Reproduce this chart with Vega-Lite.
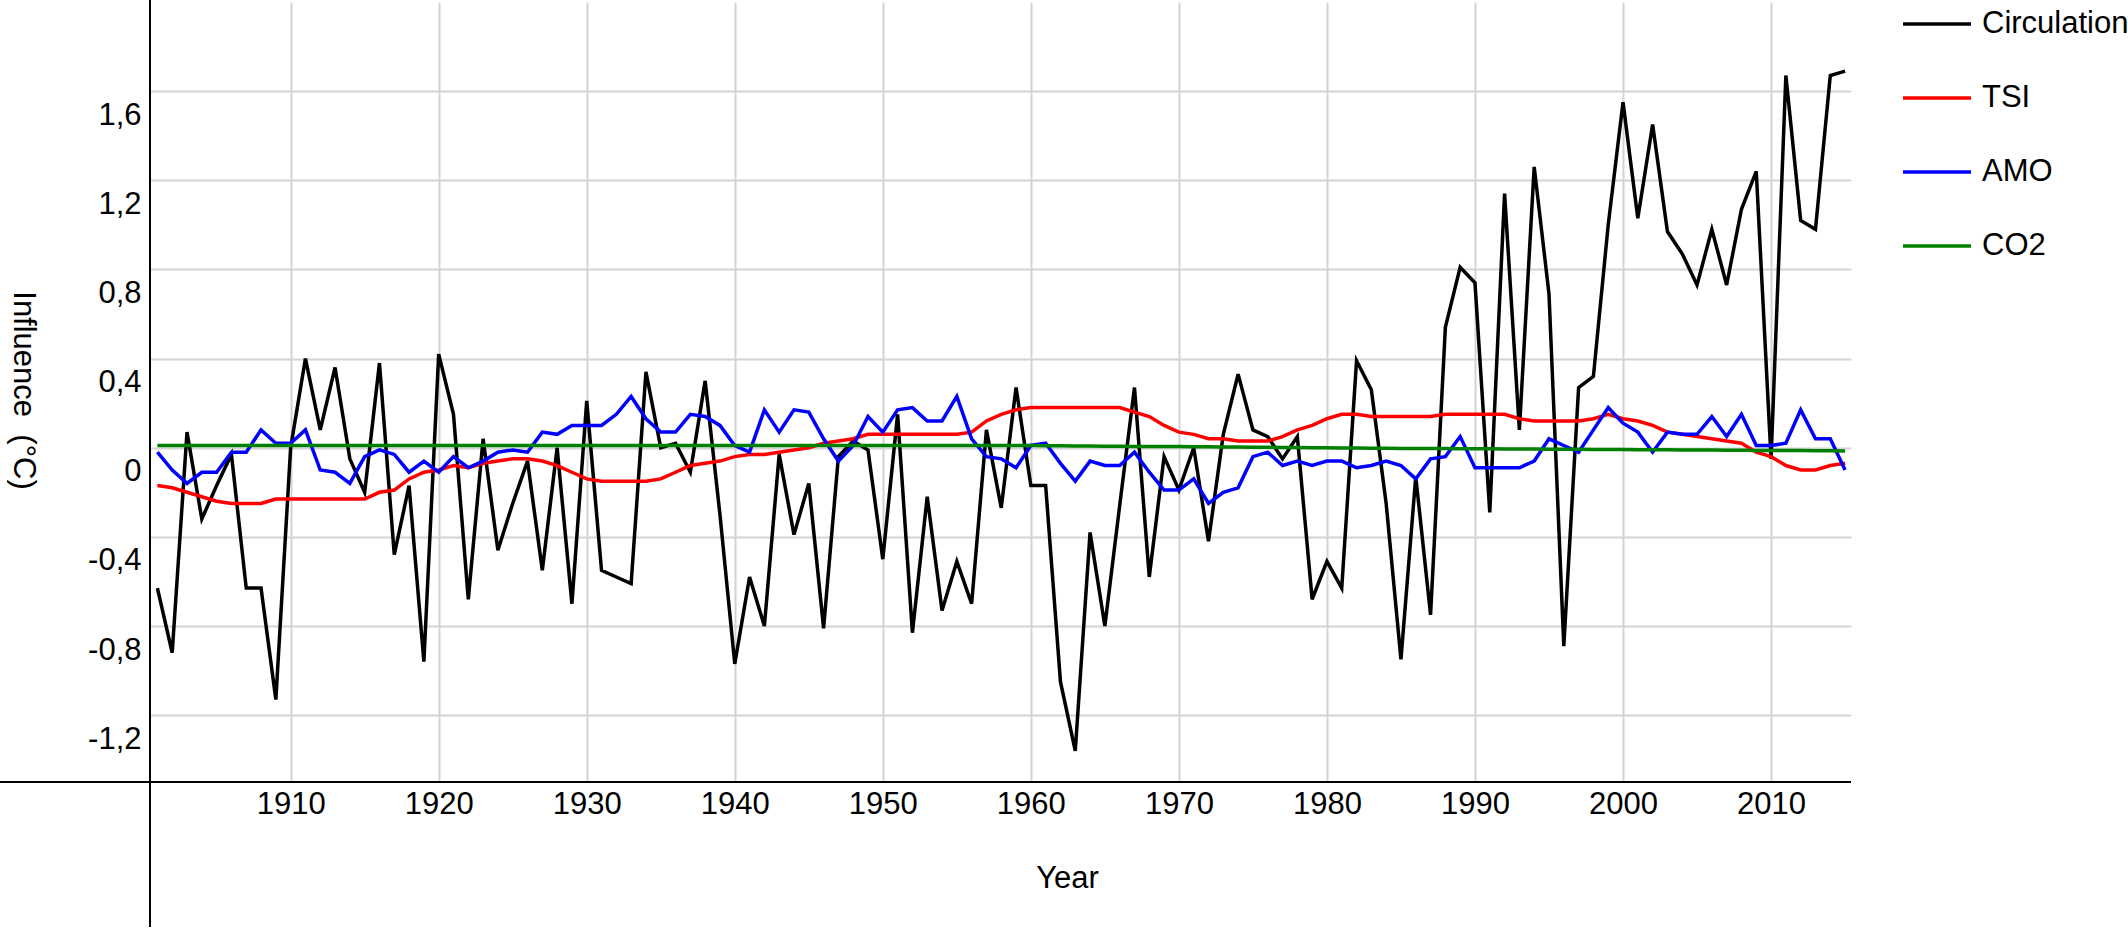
{
  "$schema": "https://vega.github.io/schema/vega-lite/v6.json",
  "width": 1701,
  "height": 780,
  "autosize": {"type": "none"},
  "padding": {"left": 150, "top": 2, "right": 277, "bottom": 148},
  "config": {"view": {"stroke": null}, "font": "Liberation Sans"},
  "data": {"values": [
    {"year":1901,"Circulation":-0.63,"TSI":-0.17,"AMO":-0.02,"CO2":0.01},
    {"year":1902,"Circulation":-0.92,"TSI":-0.18,"AMO":-0.10,"CO2":0.01},
    {"year":1903,"Circulation":0.07,"TSI":-0.20,"AMO":-0.16,"CO2":0.01},
    {"year":1904,"Circulation":-0.32,"TSI":-0.22,"AMO":-0.11,"CO2":0.01},
    {"year":1905,"Circulation":-0.17,"TSI":-0.24,"AMO":-0.11,"CO2":0.01},
    {"year":1906,"Circulation":-0.03,"TSI":-0.25,"AMO":-0.02,"CO2":0.01},
    {"year":1907,"Circulation":-0.63,"TSI":-0.25,"AMO":-0.02,"CO2":0.01},
    {"year":1908,"Circulation":-0.63,"TSI":-0.25,"AMO":0.08,"CO2":0.01},
    {"year":1909,"Circulation":-1.13,"TSI":-0.23,"AMO":0.02,"CO2":0.01},
    {"year":1910,"Circulation":0.0,"TSI":-0.23,"AMO":0.02,"CO2":0.01},
    {"year":1911,"Circulation":0.40,"TSI":-0.23,"AMO":0.08,"CO2":0.01},
    {"year":1912,"Circulation":0.08,"TSI":-0.23,"AMO":-0.10,"CO2":0.01},
    {"year":1913,"Circulation":0.36,"TSI":-0.23,"AMO":-0.11,"CO2":0.01},
    {"year":1914,"Circulation":-0.05,"TSI":-0.23,"AMO":-0.16,"CO2":0.01},
    {"year":1915,"Circulation":-0.20,"TSI":-0.23,"AMO":-0.04,"CO2":0.01},
    {"year":1916,"Circulation":0.38,"TSI":-0.20,"AMO":-0.01,"CO2":0.01},
    {"year":1917,"Circulation":-0.48,"TSI":-0.19,"AMO":-0.03,"CO2":0.01},
    {"year":1918,"Circulation":-0.17,"TSI":-0.14,"AMO":-0.11,"CO2":0.01},
    {"year":1919,"Circulation":-0.96,"TSI":-0.11,"AMO":-0.06,"CO2":0.01},
    {"year":1920,"Circulation":0.42,"TSI":-0.10,"AMO":-0.11,"CO2":0.01},
    {"year":1921,"Circulation":0.15,"TSI":-0.08,"AMO":-0.04,"CO2":0.01},
    {"year":1922,"Circulation":-0.68,"TSI":-0.09,"AMO":-0.09,"CO2":0.01},
    {"year":1923,"Circulation":0.04,"TSI":-0.07,"AMO":-0.06,"CO2":0.01},
    {"year":1924,"Circulation":-0.46,"TSI":-0.06,"AMO":-0.02,"CO2":0.01},
    {"year":1925,"Circulation":-0.25,"TSI":-0.05,"AMO":-0.01,"CO2":0.01},
    {"year":1926,"Circulation":-0.06,"TSI":-0.05,"AMO":-0.02,"CO2":0.01},
    {"year":1927,"Circulation":-0.55,"TSI":-0.06,"AMO":0.07,"CO2":0.01},
    {"year":1928,"Circulation":0.0,"TSI":-0.08,"AMO":0.06,"CO2":0.01},
    {"year":1929,"Circulation":-0.70,"TSI":-0.11,"AMO":0.10,"CO2":0.01},
    {"year":1930,"Circulation":0.21,"TSI":-0.14,"AMO":0.10,"CO2":0.01},
    {"year":1931,"Circulation":-0.55,"TSI":-0.15,"AMO":0.10,"CO2":0.01},
    {"year":1932,"Circulation":-0.58,"TSI":-0.15,"AMO":0.15,"CO2":0.01},
    {"year":1933,"Circulation":-0.61,"TSI":-0.15,"AMO":0.23,"CO2":0.01},
    {"year":1934,"Circulation":0.34,"TSI":-0.15,"AMO":0.13,"CO2":0.01},
    {"year":1935,"Circulation":0.0,"TSI":-0.14,"AMO":0.07,"CO2":0.01},
    {"year":1936,"Circulation":0.02,"TSI":-0.11,"AMO":0.07,"CO2":0.01},
    {"year":1937,"Circulation":-0.11,"TSI":-0.08,"AMO":0.15,"CO2":0.01},
    {"year":1938,"Circulation":0.30,"TSI":-0.07,"AMO":0.14,"CO2":0.01},
    {"year":1939,"Circulation":-0.30,"TSI":-0.06,"AMO":0.10,"CO2":0.01},
    {"year":1940,"Circulation":-0.97,"TSI":-0.04,"AMO":0.01,"CO2":0.01},
    {"year":1941,"Circulation":-0.58,"TSI":-0.03,"AMO":-0.02,"CO2":0.01},
    {"year":1942,"Circulation":-0.80,"TSI":-0.03,"AMO":0.17,"CO2":0.01},
    {"year":1943,"Circulation":-0.03,"TSI":-0.02,"AMO":0.07,"CO2":0.01},
    {"year":1944,"Circulation":-0.39,"TSI":-0.01,"AMO":0.17,"CO2":0.01},
    {"year":1945,"Circulation":-0.16,"TSI":0.0,"AMO":0.16,"CO2":0.01},
    {"year":1946,"Circulation":-0.81,"TSI":0.02,"AMO":0.04,"CO2":0.01},
    {"year":1947,"Circulation":-0.04,"TSI":0.03,"AMO":-0.06,"CO2":0.01},
    {"year":1948,"Circulation":0.03,"TSI":0.04,"AMO":0.01,"CO2":0.01},
    {"year":1949,"Circulation":-0.01,"TSI":0.06,"AMO":0.14,"CO2":0.01},
    {"year":1950,"Circulation":-0.50,"TSI":0.06,"AMO":0.07,"CO2":0.01},
    {"year":1951,"Circulation":0.15,"TSI":0.06,"AMO":0.17,"CO2":0.01},
    {"year":1952,"Circulation":-0.83,"TSI":0.06,"AMO":0.18,"CO2":0.01},
    {"year":1953,"Circulation":-0.22,"TSI":0.06,"AMO":0.12,"CO2":0.01},
    {"year":1954,"Circulation":-0.73,"TSI":0.06,"AMO":0.12,"CO2":0.01},
    {"year":1955,"Circulation":-0.51,"TSI":0.06,"AMO":0.23,"CO2":0.01},
    {"year":1956,"Circulation":-0.70,"TSI":0.07,"AMO":0.04,"CO2":0.01},
    {"year":1957,"Circulation":0.08,"TSI":0.12,"AMO":-0.04,"CO2":0.01},
    {"year":1958,"Circulation":-0.27,"TSI":0.15,"AMO":-0.05,"CO2":0.01},
    {"year":1959,"Circulation":0.27,"TSI":0.17,"AMO":-0.09,"CO2":0.01},
    {"year":1960,"Circulation":-0.17,"TSI":0.18,"AMO":0.01,"CO2":0.01},
    {"year":1961,"Circulation":-0.17,"TSI":0.18,"AMO":0.02,"CO2":0.009},
    {"year":1962,"Circulation":-1.05,"TSI":0.18,"AMO":-0.07,"CO2":0.009},
    {"year":1963,"Circulation":-1.36,"TSI":0.18,"AMO":-0.15,"CO2":0.008},
    {"year":1964,"Circulation":-0.38,"TSI":0.18,"AMO":-0.06,"CO2":0.008},
    {"year":1965,"Circulation":-0.80,"TSI":0.18,"AMO":-0.08,"CO2":0.007},
    {"year":1966,"Circulation":-0.26,"TSI":0.18,"AMO":-0.08,"CO2":0.007},
    {"year":1967,"Circulation":0.27,"TSI":0.16,"AMO":-0.02,"CO2":0.006},
    {"year":1968,"Circulation":-0.58,"TSI":0.14,"AMO":-0.11,"CO2":0.006},
    {"year":1969,"Circulation":-0.04,"TSI":0.10,"AMO":-0.19,"CO2":0.005},
    {"year":1970,"Circulation":-0.19,"TSI":0.07,"AMO":-0.19,"CO2":0.005},
    {"year":1971,"Circulation":0.0,"TSI":0.06,"AMO":-0.14,"CO2":0.004},
    {"year":1972,"Circulation":-0.42,"TSI":0.04,"AMO":-0.25,"CO2":0.004},
    {"year":1973,"Circulation":0.06,"TSI":0.04,"AMO":-0.20,"CO2":0.003},
    {"year":1974,"Circulation":0.33,"TSI":0.03,"AMO":-0.18,"CO2":0.003},
    {"year":1975,"Circulation":0.08,"TSI":0.03,"AMO":-0.04,"CO2":0.002},
    {"year":1976,"Circulation":0.05,"TSI":0.03,"AMO":-0.02,"CO2":0.002},
    {"year":1977,"Circulation":-0.05,"TSI":0.05,"AMO":-0.08,"CO2":0.001},
    {"year":1978,"Circulation":0.05,"TSI":0.08,"AMO":-0.06,"CO2":0.001},
    {"year":1979,"Circulation":-0.68,"TSI":0.10,"AMO":-0.08,"CO2":0.0},
    {"year":1980,"Circulation":-0.51,"TSI":0.13,"AMO":-0.06,"CO2":0.0},
    {"year":1981,"Circulation":-0.63,"TSI":0.15,"AMO":-0.06,"CO2":-0.001},
    {"year":1982,"Circulation":0.39,"TSI":0.15,"AMO":-0.09,"CO2":-0.001},
    {"year":1983,"Circulation":0.26,"TSI":0.14,"AMO":-0.08,"CO2":-0.002},
    {"year":1984,"Circulation":-0.25,"TSI":0.14,"AMO":-0.06,"CO2":-0.002},
    {"year":1985,"Circulation":-0.95,"TSI":0.14,"AMO":-0.08,"CO2":-0.003},
    {"year":1986,"Circulation":-0.13,"TSI":0.14,"AMO":-0.14,"CO2":-0.003},
    {"year":1987,"Circulation":-0.75,"TSI":0.14,"AMO":-0.05,"CO2":-0.004},
    {"year":1988,"Circulation":0.54,"TSI":0.15,"AMO":-0.04,"CO2":-0.004},
    {"year":1989,"Circulation":0.81,"TSI":0.15,"AMO":0.05,"CO2":-0.005},
    {"year":1990,"Circulation":0.74,"TSI":0.15,"AMO":-0.09,"CO2":-0.005},
    {"year":1991,"Circulation":-0.29,"TSI":0.15,"AMO":-0.09,"CO2":-0.005},
    {"year":1992,"Circulation":1.14,"TSI":0.15,"AMO":-0.09,"CO2":-0.006},
    {"year":1993,"Circulation":0.08,"TSI":0.13,"AMO":-0.09,"CO2":-0.006},
    {"year":1994,"Circulation":1.26,"TSI":0.12,"AMO":-0.06,"CO2":-0.006},
    {"year":1995,"Circulation":0.69,"TSI":0.12,"AMO":0.04,"CO2":-0.007},
    {"year":1996,"Circulation":-0.89,"TSI":0.12,"AMO":0.01,"CO2":-0.007},
    {"year":1997,"Circulation":0.27,"TSI":0.12,"AMO":-0.02,"CO2":-0.007},
    {"year":1998,"Circulation":0.32,"TSI":0.13,"AMO":0.08,"CO2":-0.008},
    {"year":1999,"Circulation":1.0,"TSI":0.15,"AMO":0.18,"CO2":-0.008},
    {"year":2000,"Circulation":1.55,"TSI":0.13,"AMO":0.11,"CO2":-0.008},
    {"year":2001,"Circulation":1.03,"TSI":0.12,"AMO":0.07,"CO2":-0.009},
    {"year":2002,"Circulation":1.45,"TSI":0.10,"AMO":-0.02,"CO2":-0.009},
    {"year":2003,"Circulation":0.97,"TSI":0.07,"AMO":0.07,"CO2":-0.009},
    {"year":2004,"Circulation":0.87,"TSI":0.06,"AMO":0.06,"CO2":-0.010},
    {"year":2005,"Circulation":0.73,"TSI":0.05,"AMO":0.06,"CO2":-0.010},
    {"year":2006,"Circulation":0.98,"TSI":0.04,"AMO":0.14,"CO2":-0.010},
    {"year":2007,"Circulation":0.73,"TSI":0.03,"AMO":0.05,"CO2":-0.011},
    {"year":2008,"Circulation":1.07,"TSI":0.02,"AMO":0.15,"CO2":-0.011},
    {"year":2009,"Circulation":1.24,"TSI":-0.02,"AMO":0.01,"CO2":-0.012},
    {"year":2010,"Circulation":-0.05,"TSI":-0.04,"AMO":0.01,"CO2":-0.012},
    {"year":2011,"Circulation":1.67,"TSI":-0.08,"AMO":0.02,"CO2":-0.013},
    {"year":2012,"Circulation":1.02,"TSI":-0.10,"AMO":0.17,"CO2":-0.013},
    {"year":2013,"Circulation":0.98,"TSI":-0.10,"AMO":0.04,"CO2":-0.014},
    {"year":2014,"Circulation":1.67,"TSI":-0.08,"AMO":0.04,"CO2":-0.014},
    {"year":2015,"Circulation":1.69,"TSI":-0.07,"AMO":-0.10,"CO2":-0.015}
  ]},
  "layer": [
    {
      "transform": [{"fold": ["Circulation", "TSI", "AMO", "CO2"], "as": ["series", "value"]}],
      "mark": {"type": "line", "strokeWidth": 3.5, "clip": false},
      "encoding": {
        "x": {
          "field": "year", "type": "quantitative",
          "scale": {"domain": [1900.5, 2015.4], "nice": false, "zero": false},
          "axis": {
            "values": [1910, 1920, 1930, 1940, 1950, 1960, 1970, 1980, 1990, 2000, 2010],
            "format": "d", "domain": false, "ticks": false, "grid": true,
            "gridColor": "#d3d3d3", "gridWidth": 2,
            "labelFontSize": 31, "labelColor": "#000", "labelBaseline": "alphabetic",
            "labelPadding": 31, "labelFlush": false, "labelOverlap": false,
            "title": "Year", "titleFontSize": 31, "titleFontWeight": "normal", "titleColor": "#000",
            "titleX": 917, "titleY": 105, "titleBaseline": "alphabetic", "titleAlign": "center"
          }
        },
        "y": {
          "field": "value", "type": "quantitative",
          "scale": {"domain": [-1.5, 2.0], "nice": false, "zero": false},
          "axis": {
            "values": [-1.2, -0.8, -0.4, 0, 0.4, 0.8, 1.2, 1.6],
            "labelExpr": "datum.value == 0 ? '0' : (datum.value < 0 ? '-' : '') + replace(format(abs(datum.value), '.1f'), '.', ',')",
            "domain": false, "ticks": false, "grid": true,
            "gridColor": "#d3d3d3", "gridWidth": 2,
            "labelFontSize": 31, "labelColor": "#000", "labelBaseline": "alphabetic",
            "labelOffset": 33, "labelPadding": 9, "labelFlush": false, "labelOverlap": false,
            "title": "Influence\u00a0 (°C)", "titleFontSize": 31, "titleFontWeight": "normal", "titleColor": "#000",
            "titleAngle": 90, "titleX": -128, "titleY": 388, "titleBaseline": "middle", "titleAlign": "center"
          }
        },
        "color": {
          "field": "series", "type": "nominal",
          "scale": {"domain": ["Circulation", "TSI", "AMO", "CO2"], "range": ["#000000", "#ff0000", "#0000ff", "#008000"]},
          "legend": {
            "orient": "none", "legendX": 1751, "legendY": -14, "title": null,
            "symbolType": "stroke", "symbolSize": 4624, "symbolStrokeWidth": 3.5,
            "labelFontSize": 31, "labelColor": "#000", "labelOffset": 9, "rowPadding": 23, "padding": 0
          }
        }
      }
    },
    {
      "mark": {"type": "rule", "color": "#000", "strokeWidth": 2},
      "encoding": {
        "x": {"datum": 1890.3, "type": "quantitative"},
        "x2": {"datum": 2015.4},
        "y": {"datum": -1.5, "type": "quantitative"}
      }
    },
    {
      "mark": {"type": "rule", "color": "#000", "strokeWidth": 2},
      "encoding": {
        "x": {"datum": 1900.5, "type": "quantitative"},
        "y": {"datum": 2.01, "type": "quantitative"},
        "y2": {"datum": -2.15}
      }
    }
  ]
}
